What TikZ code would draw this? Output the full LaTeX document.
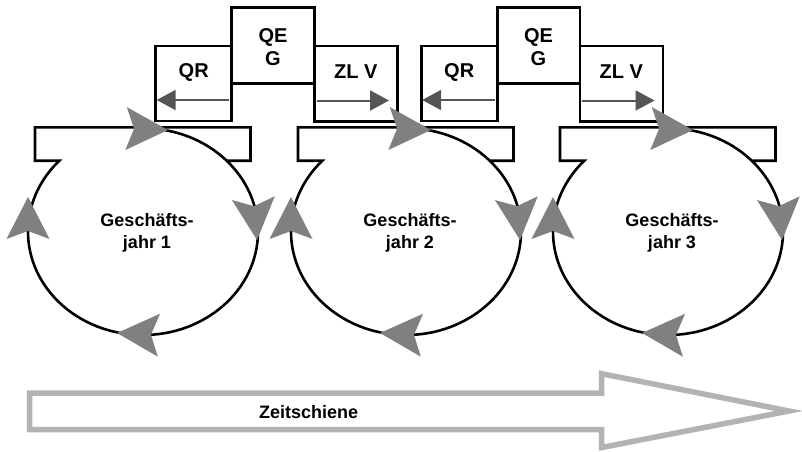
\documentclass[tikz,border=0pt]{standalone}
\usepackage{fontspec}
\setmainfont{Liberation Sans}
\usetikzlibrary{arrows.meta}
\usetikzlibrary{positioning}

\definecolor{tipgray}{RGB}{128,128,128}
\definecolor{darkarrow}{RGB}{85,85,85}
\definecolor{railgray}{RGB}{179,179,179}

\tikzset{
  box/.style={draw, line width=2.6pt, fill=white, inner sep=0pt, outer sep=0pt},
  boxtext/.style={font=\bfseries\fontsize{20}{23.5}\selectfont, align=center, inner sep=0pt},
  yeartext/.style={font=\bfseries\fontsize{18}{21.7}\selectfont, align=center, inner sep=0pt},
  boxarrow/.style={darkarrow, line width=2pt, -{Triangle[length=19pt,width=20pt]}},
  cycleline/.style={line width=2.6pt, line join=miter},
  rail/.style={draw=railgray, line width=5.5pt, fill=white, line join=miter},
  bigtip/.pic={\fill[tipgray] (0,0) -- (-42,21.5) -- (-34,0) -- (-42,-21.5) -- cycle;}
}

\begin{document}
\begin{tikzpicture}[x=1pt, y=1pt]
\useasboundingbox (0,0) rectangle (802,-451);

% QR / QEG / ZLV groups
\foreach \gx/\g in {0/1, 265.5/2} {
  \begin{scope}[xshift=\gx]
  \node[box, minimum width=82.6pt, minimum height=76pt] (qeg\g) at (273,-45.3) {};
  \node[boxtext] (qegtext\g) at ([yshift=-2pt]qeg\g) {QE\\G};
  \node[box, anchor=north east, minimum width=76pt, minimum height=75pt] (qr\g) at ([yshift=-38.7pt]qeg\g.north west) {};
  \node[boxtext] (qrtext\g) at ([yshift=-26.7pt]qr\g.north) {QR};
  \node[box, anchor=north west, minimum width=83pt, minimum height=75.5pt] (zlv\g) at ([yshift=-38.7pt]qeg\g.north east) {};
  \node[boxtext] (zlvtext\g) at ([yshift=-26pt]zlv\g.north) {ZL V};
  \draw[boxarrow] ([shift={(-2.7pt,21pt)}]qr\g.south east) -- ([shift={(1pt,21pt)}]qr\g.south west);
  \draw[boxarrow] ([shift={(2.4pt,21pt)}]zlv\g.south west) -- ([shift={(-8.3pt,21pt)}]zlv\g.south east);
  \end{scope}
}

% business year cycles
\foreach \dx/\n in {0/1, 263/2, 525/3} {
  \begin{scope}[xshift=\dx]
  \draw[cycleline] ([shift={(86.5:115 and 103.4)}]143,-231.6)
    arc[start angle=86.5, end angle=-223.3, x radius=115, y radius=103.4]
    -- (35,-160.7) -- (35,-127.3) -- (250.5,-127.3) -- (250.5,-160.7) -- (226.7,-160.7);
  \pic[rotate=-2] at (168,-130) {bigtip};
  \pic[rotate=-85] at (257,-240) {bigtip};
  \pic[rotate=177] at (117,-333) {bigtip};
  \pic[rotate=90] at (28,-197) {bigtip};
  \node[yeartext] (year\n) at (147,-232.5) {Geschäfts-\\jahr \n};
  \end{scope}
}

% time line
\draw[rail] (29.5,-393) -- (601.7,-393) -- (601.7,-373.7) -- (789,-411)
  -- (601.7,-447.5) -- (601.7,-429.7) -- (29.5,-429.7) -- cycle;
\node[yeartext] (zeit) at (308.7,-411.7) {Zeitschiene};
\end{tikzpicture}
\end{document}
